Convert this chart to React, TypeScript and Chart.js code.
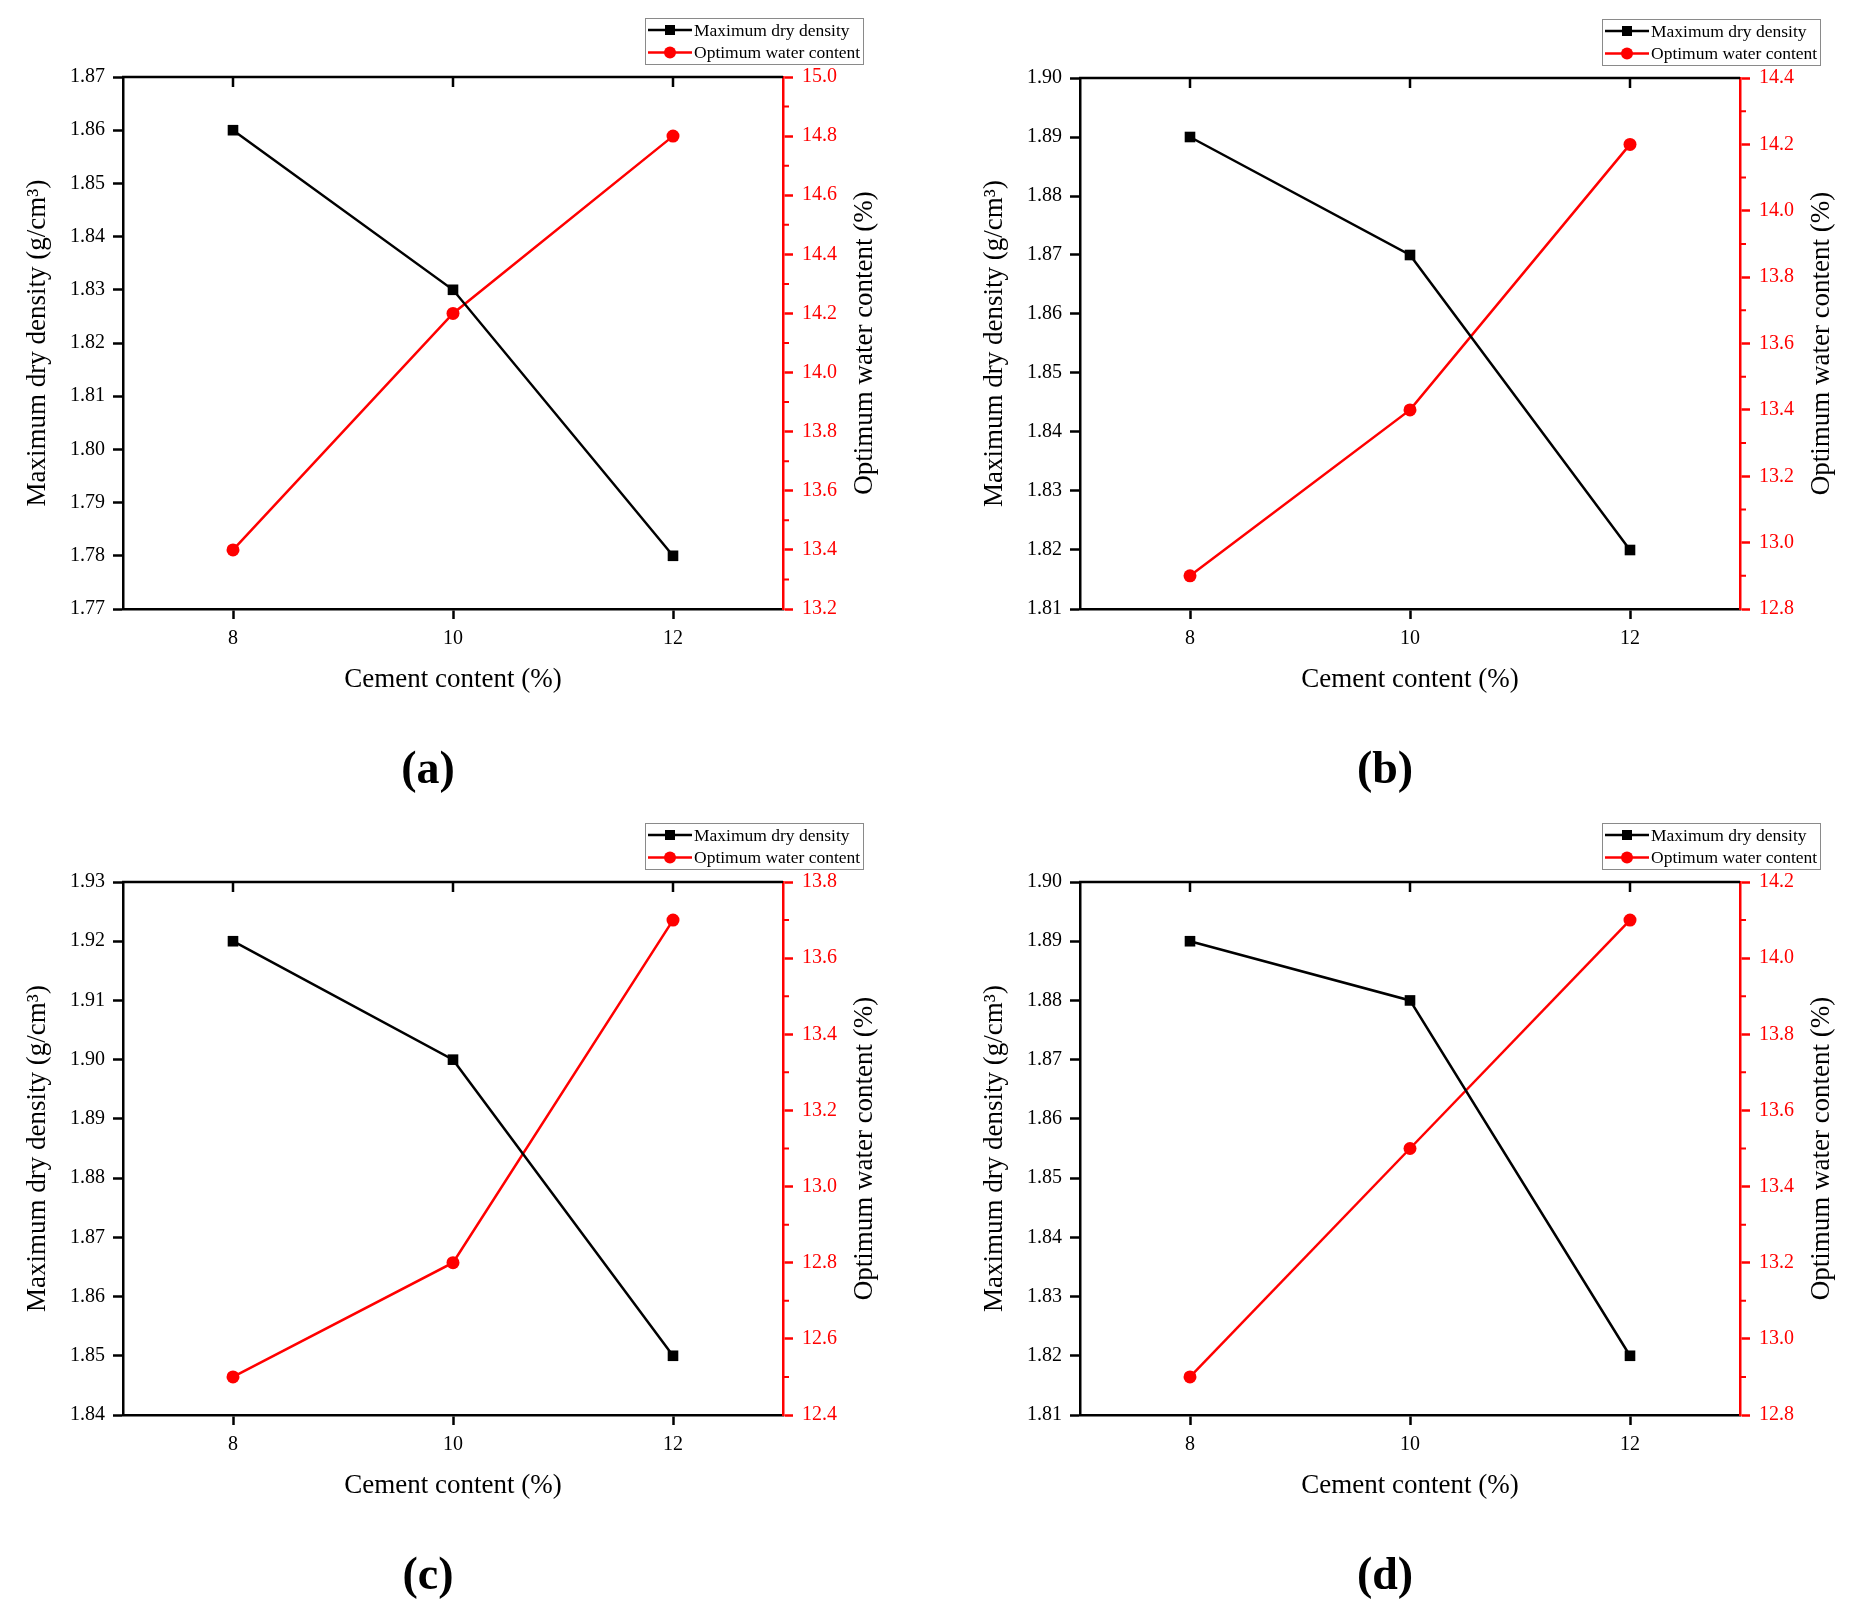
import React, { useEffect, useRef } from 'react';
import { Chart, registerables } from 'chart.js';

Chart.register(...registerables);

// ---------- data ----------
const cementContent = [8, 10, 12];
const xTickValues = [8, 10, 12];
const xRange = [7, 13];

const panelLabels = ['(a)', '(b)', '(c)', '(d)'];

const densityA = [1.86, 1.83, 1.78];
const waterA = [13.4, 14.2, 14.8];
const densityB = [1.89, 1.87, 1.82];
const waterB = [12.9, 13.4, 14.2];
const densityC = [1.92, 1.9, 1.85];
const waterC = [12.5, 12.8, 13.7];
const densityD = [1.89, 1.88, 1.82];
const waterD = [12.9, 13.5, 14.1];

const densitySeries = [densityA, densityB, densityC, densityD];
const waterSeries = [waterA, waterB, waterC, waterD];

const densityRanges = [
  [1.77, 1.87],
  [1.81, 1.9],
  [1.84, 1.93],
  [1.81, 1.9],
];
const waterRanges = [
  [13.2, 15.0],
  [12.8, 14.4],
  [12.4, 13.8],
  [12.8, 14.2],
];
const densityStep = 0.01;
const waterStep = 0.2;

const xTitle = 'Cement content (%)';
const yLeftTitle = 'Maximum dry density (g/cm³)';
const yRightTitle = 'Optimum water content (%)';
const seriesNames = ['Maximum dry density', 'Optimum water content'];

// ---------- layout ----------
const FONT = "'Liberation Serif', 'Times New Roman', serif";

const PANELS = [
  { left: 0, top: 0, w: 928, h: 807, L: 123, R: 783, T: 77, B: 609 },
  { left: 928, top: 0, w: 929, h: 807, L: 152, R: 812, T: 78, B: 609 },
  { left: 0, top: 807, w: 928, h: 807, L: 123, R: 783, T: 75, B: 608 },
  { left: 928, top: 807, w: 929, h: 807, L: 152, R: 812, T: 75, B: 608 },
];

const decorPlugin = {
  id: 'decor',
  afterDraw(chart: any, _args: any, opts: any) {
    const { ctx, chartArea, scales } = chart;
    const { left, right, top, bottom } = chartArea;
    ctx.save();

    // top frame line with inward ticks
    ctx.strokeStyle = '#000';
    ctx.lineWidth = 2.5;
    ctx.beginPath();
    ctx.moveTo(left - 1, top);
    ctx.lineTo(right, top);
    for (const v of xTickValues) {
      const px = scales.x.getPixelForValue(v);
      ctx.moveTo(px, top);
      ctx.lineTo(px, top + 10);
    }
    ctx.stroke();

    // minor ticks on the right axis
    const y1 = scales.y1;
    const t = y1.ticks;
    ctx.strokeStyle = '#ff0000';
    ctx.lineWidth = 2;
    ctx.beginPath();
    for (let i = 0; i < t.length - 1; i++) {
      const mid = (t[i].value + t[i + 1].value) / 2;
      const py = y1.getPixelForValue(mid);
      ctx.moveTo(right, py);
      ctx.lineTo(right + 6, py);
    }
    ctx.stroke();

    // axis titles
    ctx.fillStyle = '#000';
    ctx.font = `27px ${FONT}`;
    ctx.textAlign = 'center';
    ctx.textBaseline = 'middle';
    const cy = (top + bottom) / 2;
    const cx = (left + right) / 2;
    ctx.fillText(xTitle, cx, bottom + 71);

    ctx.save();
    ctx.translate(left - 85, cy);
    ctx.rotate(-Math.PI / 2);
    ctx.fillText(yLeftTitle, 0, 0);
    ctx.restore();

    ctx.save();
    ctx.translate(right + 82, cy);
    ctx.rotate(-Math.PI / 2);
    ctx.fillText(yRightTitle, 0, 0);
    ctx.restore();

    // panel label
    ctx.font = `bold 46px ${FONT}`;
    ctx.fillText(opts.label, cx - 25, bottom + 162);

    // legend
    const bw = 218;
    const bh = 46;
    const lx = right + 80 - bw;
    const ly = top - 59;
    ctx.fillStyle = '#fff';
    ctx.fillRect(lx, ly, bw, bh);
    ctx.strokeStyle = '#8a8a8a';
    ctx.lineWidth = 1;
    ctx.strokeRect(lx + 0.5, ly + 0.5, bw, bh);
    const colors = ['#000000', '#ff0000'];
    ctx.font = `17.5px ${FONT}`;
    ctx.textAlign = 'left';
    for (let i = 0; i < 2; i++) {
      const ry = ly + 12 + i * 22.5;
      ctx.strokeStyle = colors[i];
      ctx.fillStyle = colors[i];
      ctx.lineWidth = 2.5;
      ctx.beginPath();
      ctx.moveTo(lx + 3, ry);
      ctx.lineTo(lx + 47, ry);
      ctx.stroke();
      const mx = lx + 25;
      if (i === 0) {
        ctx.fillRect(mx - 5, ry - 5, 10, 10);
      } else {
        ctx.beginPath();
        ctx.arc(mx, ry, 6, 0, Math.PI * 2);
        ctx.fill();
      }
      ctx.fillStyle = '#000';
      ctx.fillText(seriesNames[i], lx + 49, ry + 1);
    }
    ctx.restore();
  },
};

function Panel({ index }: { index: number }) {
  const ref = useRef<HTMLCanvasElement>(null);
  const p = PANELS[index];

  useEffect(() => {
    if (!ref.current) return;
    const tickFont = { family: FONT, size: 20 };
    const chart = new Chart(ref.current, {
      type: 'line',
      data: {
        datasets: [
          {
            label: seriesNames[0],
            data: cementContent.map((c, i) => ({ x: c, y: densitySeries[index][i] })),
            yAxisID: 'y',
            borderColor: '#000000',
            backgroundColor: '#000000',
            borderWidth: 2.5,
            pointStyle: 'rect',
            pointRadius: 7.5,
            pointBorderWidth: 0,
            tension: 0,
          },
          {
            label: seriesNames[1],
            data: cementContent.map((c, i) => ({ x: c, y: waterSeries[index][i] })),
            yAxisID: 'y1',
            borderColor: '#ff0000',
            backgroundColor: '#ff0000',
            borderWidth: 2.5,
            pointStyle: 'circle',
            pointRadius: 6.5,
            pointBorderWidth: 0,
            tension: 0,
          },
        ],
      },
      options: {
        animation: false,
        responsive: false,
        maintainAspectRatio: false,
        layout: { padding: { top: p.T, left: 0, right: 0, bottom: 0 } },
        plugins: {
          legend: { display: false },
          tooltip: { enabled: false },
          decor: { label: panelLabels[index] },
        } as any,
        scales: {
          x: {
            type: 'linear',
            position: 'bottom',
            min: xRange[0],
            max: xRange[1],
            afterBuildTicks: (s: any) => {
              s.ticks = xTickValues.map((v) => ({ value: v }));
            },
            afterFit: (s: any) => {
              s.height = p.h - p.B;
            },
            ticks: {
              color: '#000',
              font: tickFont,
              padding: 8,
              autoSkip: false,
              maxRotation: 0,
              callback: (v: any) => String(v),
            },
            grid: {
              drawOnChartArea: false,
              drawTicks: true,
              tickLength: 10,
              tickWidth: 2.5,
              tickColor: '#000',
            },
            border: { display: true, color: '#000', width: 2.5 },
          },
          y: {
            type: 'linear',
            position: 'left',
            min: densityRanges[index][0],
            max: densityRanges[index][1],
            afterFit: (s: any) => {
              s.width = p.L;
            },
            ticks: {
              stepSize: densityStep,
              color: '#000',
              font: tickFont,
              padding: 8,
              autoSkip: false,
              callback: (v: any) => Number(v).toFixed(2),
            },
            grid: {
              drawOnChartArea: false,
              drawTicks: true,
              tickLength: 10,
              tickWidth: 2.5,
              tickColor: '#000',
            },
            border: { display: true, color: '#000', width: 2.5 },
          },
          y1: {
            type: 'linear',
            position: 'right',
            min: waterRanges[index][0],
            max: waterRanges[index][1],
            afterFit: (s: any) => {
              s.width = p.w - p.R;
            },
            ticks: {
              stepSize: waterStep,
              color: '#ff0000',
              font: tickFont,
              padding: 9,
              autoSkip: false,
              callback: (v: any) => Number(v).toFixed(1),
            },
            grid: {
              drawOnChartArea: false,
              drawTicks: true,
              tickLength: 10,
              tickWidth: 2.5,
              tickColor: '#ff0000',
            },
            border: { display: true, color: '#ff0000', width: 2.5 },
          },
        },
      } as any,
      plugins: [decorPlugin],
    });
    return () => chart.destroy();
  }, [index]);

  return (
    <canvas
      ref={ref}
      width={p.w}
      height={p.h}
      style={{ position: 'absolute', left: p.left, top: p.top, width: p.w, height: p.h }}
    />
  );
}

export default function App() {
  return (
    <div
      style={{
        position: 'absolute',
        left: 0,
        top: 0,
        width: 1857,
        height: 1614,
        background: '#ffffff',
        overflow: 'hidden',
      }}
    >
      {PANELS.map((_, i) => (
        <Panel key={i} index={i} />
      ))}
    </div>
  );
}
